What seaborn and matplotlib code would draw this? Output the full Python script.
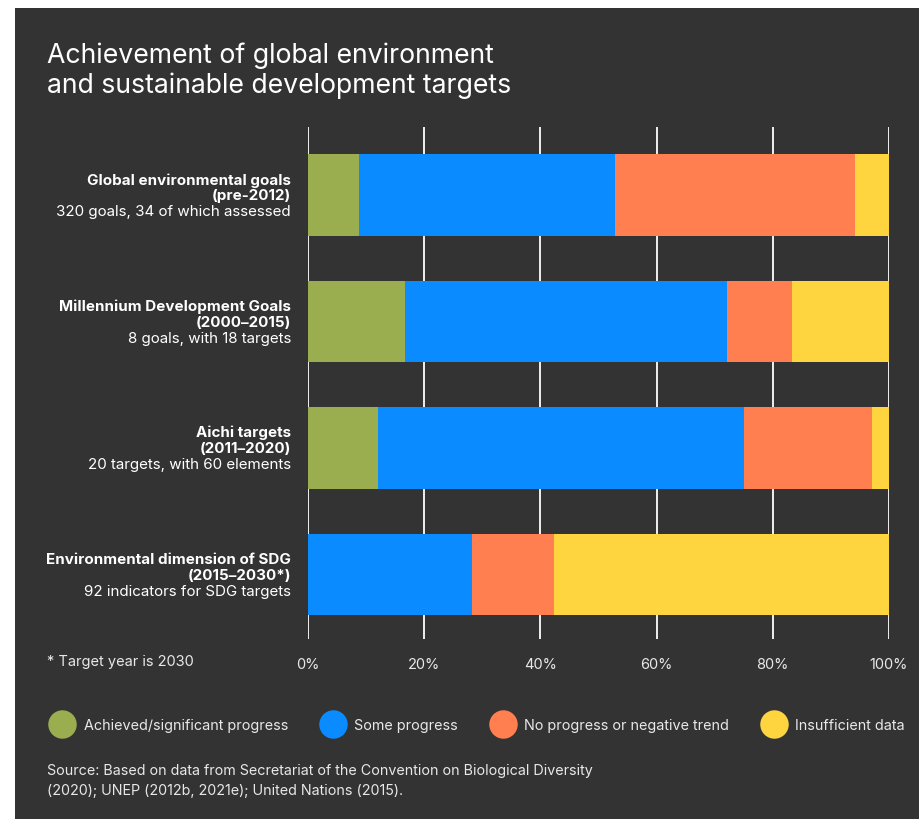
import pandas as pd
import numpy as np
import seaborn as sns
import matplotlib.pyplot as plt
from matplotlib.patches import Rectangle
from matplotlib.lines import Line2D

# data (shares in %)
groups = ['Global environmental goals', 'Millennium Development Goals',
          'Aichi targets', 'Environmental dimension of SDG']
periods = ['(pre-2012)', '(2000\u20132015)', '(2011\u20132020)', '(2015\u20132030*)']
details = ['320 goals, 34 of which assessed', '8 goals, with 18 targets',
           '20 targets, with 60 elements', '92 indicators for SDG targets']
categories = ['Achieved/significant progress', 'Some progress',
              'No progress or negative trend', 'Insufficient data']
achieved = [8.8, 16.7, 12.0, 0.0]
some = [44.1, 55.5, 63.0, 28.3]
no_progress = [41.2, 11.1, 22.0, 14.1]
insufficient = [5.9, 16.7, 3.0, 57.6]
colors = ['#9AAE4F', '#0A8BFF', '#FF7F50', '#FFD53F']
xticks = [0, 20, 40, 60, 80, 100]

bg = '#333333'
sns.set_style('white')
plt.rcParams['font.family'] = ['Inter', 'DejaVu Sans']

df = pd.DataFrame({'group': groups,
                   categories[0]: achieved, categories[1]: some,
                   categories[2]: no_progress, categories[3]: insufficient})
cum = df[categories].cumsum(axis=1)
cum['group'] = df['group']

fig = plt.figure(figsize=(9.2, 8.2), dpi=100, facecolor='white')
fig.patches.append(Rectangle((15 / 920, 0), 1, 811 / 820, transform=fig.transFigure,
                             facecolor=bg, edgecolor='none', zorder=-10))
ax = fig.add_axes([308 / 920, 1 - 640 / 820, 581 / 920, 512 / 820])
ax.set_facecolor(bg)

for x in xticks:
    ax.axvline(x, color='#f0f0f0', lw=1.4, zorder=0)

# stacked bars: draw cumulative totals from last to first
for cat, col in reversed(list(zip(categories, colors))):
    sns.barplot(data=cum, x=cat, y='group', order=groups, color=col, orient='h',
                width=0.645, saturation=1, linewidth=0, ax=ax, zorder=2)

ax.set_xlim(0, 100)
ax.set_ylim(3.51, -0.54)
ax.set_xticks(xticks)
ax.set_xticklabels([f'{t}%' for t in xticks], color='#e8e8e8', fontsize=10.5)
ax.tick_params(axis='x', length=0, pad=13)
ax.set_yticks([])
ax.set_xlabel('')
ax.set_ylabel('')
for s in ax.spines.values():
    s.set_visible(False)

# category labels, three lines each
for i in range(len(groups)):
    for txt, dy, w in [(groups[i], 16, 'bold'), (periods[i], 0, 'bold'), (details[i], -16, 'normal')]:
        ax.annotate(txt, xy=(0, i), xycoords=('axes fraction', 'data'),
                    xytext=(-17, dy), textcoords='offset pixels',
                    ha='right', va='center', color='white', fontsize=10.9, fontweight=w)

fig.text(47 / 920, 1 - 56 / 820, 'Achievement of global environment',
         color='white', fontsize=19.2, va='center', ha='left')
fig.text(47 / 920, 1 - 86 / 820, 'and sustainable development targets',
         color='white', fontsize=19.2, va='center', ha='left')

fig.text(47 / 920, 1 - 662 / 820, '* Target year is 2030', color='#e8e8e8',
         fontsize=10.5, va='center', ha='left')

handles = [Line2D([], [], marker='o', ls='none', markersize=20.5, markerfacecolor=c,
                  markeredgewidth=0) for c in colors]
leg = fig.legend(handles, categories, ncol=4, loc='center left',
                 bbox_to_anchor=(48 / 920, 1 - 726 / 820), frameon=False,
                 fontsize=10.35, handlelength=2.0, handletextpad=0.5,
                 columnspacing=2.1, borderpad=0, borderaxespad=0)
for t in leg.get_texts():
    t.set_color('#e8e8e8')

fig.text(47 / 920, 1 - 771 / 820,
         'Source: Based on data from Secretariat of the Convention on Biological Diversity',
         color='#e8e8e8', fontsize=10.3, va='center', ha='left')
fig.text(47 / 920, 1 - 791 / 820,
         '(2020); UNEP (2012b, 2021e); United Nations (2015).',
         color='#e8e8e8', fontsize=10.3, va='center', ha='left')

fig.savefig('out.png', dpi=100, facecolor='white')
